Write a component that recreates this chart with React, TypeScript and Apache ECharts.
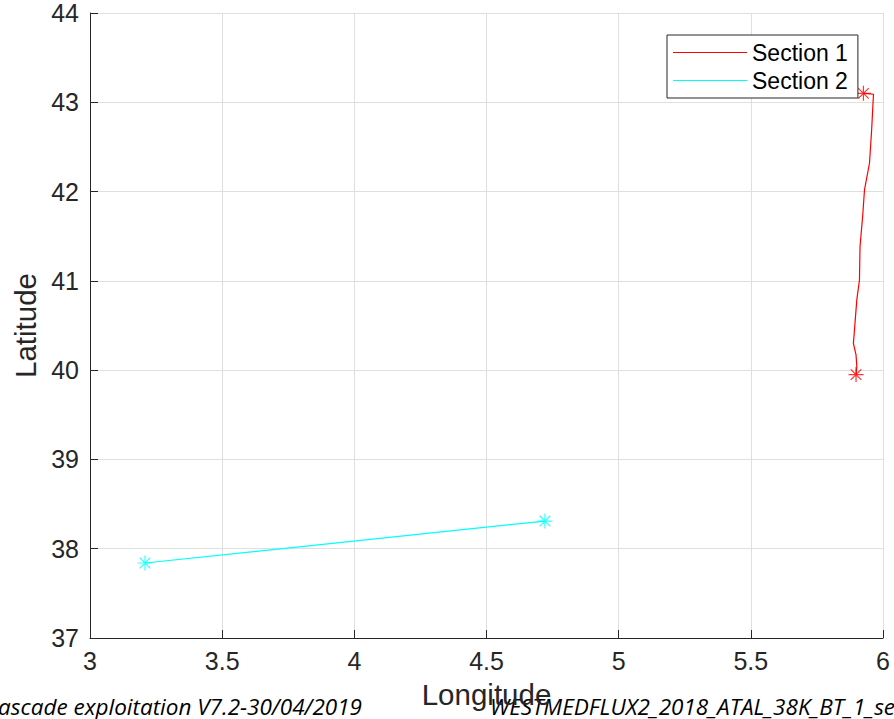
import React, { useEffect, useRef } from "react";
import * as echarts from "echarts";

// Ship track of section 1 (longitude, latitude), north to south
const section1Lon = [5.926, 5.964, 5.957, 5.949, 5.930, 5.924, 5.913, 5.911, 5.901, 5.891, 5.888, 5.898, 5.901, 5.898];
const section1Lat = [43.10, 43.09, 42.69, 42.32, 42.02, 41.76, 41.38, 41.01, 40.79, 40.41, 40.30, 40.17, 40.04, 39.95];

// Section 2, west to east
const section2Lon = [3.208, 4.721];
const section2Lat = [37.84, 38.31];

const seriesNames = ["Section 1", "Section 2"];
const seriesColors = ["#ff0000", "#00ffff"];

const footerLeft = "Cascade exploitation V7.2-30/04/2019";
const footerRight = "WESTMEDFLUX2_2018_ATAL_38K_BT_1_sections";

const FONT = "'Liberation Sans', Arial, Helvetica, sans-serif";
const FOOTER_FONT = "'Open Sans', 'Liberation Sans', sans-serif";
const AXIS_COLOR = "#262626";
const STAR = "path://M0,-1L0,1M-1,0L1,0M-0.7071,-0.7071L0.7071,0.7071M-0.7071,0.7071L0.7071,-0.7071";

const zip = (xs: number[], ys: number[]) => xs.map((x, i) => [x, ys[i]]);
const ends = (pts: number[][]) => [pts[0], pts[pts.length - 1]];

export default function App() {
  const ref = useRef<HTMLDivElement>(null);

  useEffect(() => {
    if (!ref.current) return;
    const chart = echarts.init(ref.current, null, { renderer: "svg" });
    const s1 = zip(section1Lon, section1Lat);
    const s2 = zip(section2Lon, section2Lat);

    const axisCommon = {
      axisLine: { show: true, onZero: false, lineStyle: { color: AXIS_COLOR, width: 1 } },
      axisTick: { show: true, inside: true, length: 8, lineStyle: { color: AXIS_COLOR, width: 1 } },
      splitLine: { show: true, lineStyle: { color: "#dfdfdf", width: 1 } },
      axisLabel: { color: AXIS_COLOR, fontSize: 25, fontFamily: FONT },
      nameTextStyle: { color: AXIS_COLOR, fontSize: 29.5, fontFamily: FONT },
      nameLocation: "middle" as const,
    };

    chart.setOption({
      animation: false,
      backgroundColor: "#ffffff",
      grid: { left: 90, right: 11, top: 13, bottom: 81, containLabel: false },
      xAxis: {
        ...axisCommon,
        type: "value",
        min: 3,
        max: 6,
        interval: 0.5,
        name: "Longitude",
        nameGap: 41,
        axisLabel: { ...axisCommon.axisLabel, margin: 10 },
      },
      yAxis: {
        ...axisCommon,
        type: "value",
        min: 37,
        max: 44,
        interval: 1,
        name: "Latitude",
        nameGap: 45,
        axisLabel: { ...axisCommon.axisLabel, margin: 11 },
      },
      legend: {
        show: true,
        orient: "vertical",
        left: 667,
        top: 35,
        padding: [6, 10, 6, 6],
        itemGap: 5,
        itemWidth: 74,
        itemHeight: 1.2,
        icon: "rect",
        backgroundColor: "#ffffff",
        borderColor: AXIS_COLOR,
        borderWidth: 1,
        borderRadius: 0,
        textStyle: { color: "#000000", fontSize: 23, fontFamily: FONT },
        data: seriesNames,
        z: 10,
      },
      series: [
        {
          name: seriesNames[0],
          type: "line",
          data: s1,
          showSymbol: false,
          symbol: "none",
          lineStyle: { color: seriesColors[0], width: 1.2 },
          itemStyle: { color: seriesColors[0] },
        },
        {
          name: seriesNames[1],
          type: "line",
          data: s2,
          showSymbol: false,
          symbol: "none",
          lineStyle: { color: seriesColors[1], width: 1.2 },
          itemStyle: { color: seriesColors[1] },
        },
        {
          name: "ends1",
          type: "scatter",
          data: ends(s1),
          symbol: STAR,
          symbolSize: 15,
          itemStyle: { color: "none", borderColor: seriesColors[0], borderWidth: 1.2 },
          silent: true,
        },
        {
          name: "ends2",
          type: "scatter",
          data: ends(s2),
          symbol: STAR,
          symbolSize: 15,
          itemStyle: { color: "none", borderColor: seriesColors[1], borderWidth: 1.2 },
          silent: true,
        },
      ],
      graphic: [
        {
          type: "text",
          x: 362,
          y: 706,
          style: {
            text: footerLeft,
            fill: "#000000",
            font: `italic 22.5px ${FOOTER_FONT}`,
            textAlign: "right",
            textVerticalAlign: "middle",
          },
        },
        {
          type: "text",
          x: 490,
          y: 706,
          style: {
            text: footerRight,
            fill: "#000000",
            font: `italic 22.5px ${FOOTER_FONT}`,
            textAlign: "left",
            textVerticalAlign: "middle",
          },
        },
      ],
    });

    return () => chart.dispose();
  }, []);

  return (
    <div
      ref={ref}
      style={{ position: "fixed", left: 0, top: 0, width: 894, height: 719, overflow: "hidden", background: "#fff" }}
    />
  );
}
